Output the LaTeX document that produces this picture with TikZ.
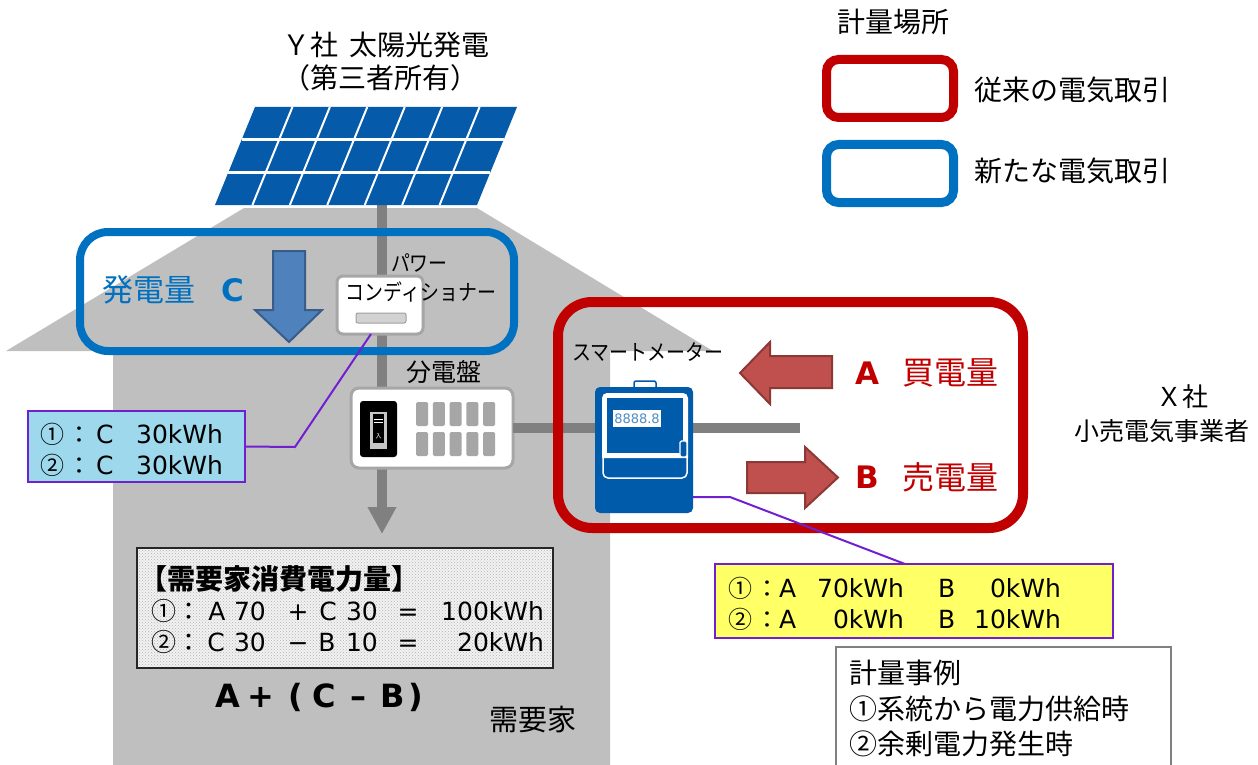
\documentclass[tikz,border=0pt]{standalone}
\usepackage{fontspec}
\usepackage{graphicx}
\setmainfont{Noto Sans CJK JP}
\newfontfamily\latin{DejaVu Sans}
\usetikzlibrary{arrows.meta,calc,patterns}
\newcommand\fsz[1]{\fontsize{#1}{#1}\selectfont}
% narrow kana, as the katakana labels are set
\newcommand\narrowkana[1]{\scalebox{0.86}[1]{#1}}
\definecolor{housegray}{RGB}{191,191,191}
\definecolor{pipegray}{RGB}{128,128,128}
\definecolor{pvblue}{RGB}{5,90,170}
\definecolor{newblue}{RGB}{0,112,192}
\definecolor{oldred}{RGB}{192,0,0}
\definecolor{arrowred}{RGB}{192,80,77}
\definecolor{arrowredline}{RGB}{140,56,54}
\definecolor{arrowblue}{RGB}{79,129,189}
\definecolor{arrowblueline}{RGB}{56,93,138}
\definecolor{callout}{RGB}{112,32,208}
\definecolor{cyanfill}{RGB}{157,216,236}
\definecolor{yellowfill}{RGB}{255,255,102}
\definecolor{meterblue}{RGB}{0,91,171}
\definecolor{boxgray}{RGB}{166,166,166}
\definecolor{cellgray}{RGB}{166,166,166}
\begin{document}
\begin{tikzpicture}[x=1pt,y=-1pt,
  every node/.style={inner sep=0pt, outer sep=0pt},
  pipe/.style={draw=pipegray, line width=10pt},
  callline/.style={draw=callout, line width=2pt},
  jp/.style={font=\fsz{#1}},
  lt/.style={font=\latin\fsz{#1}},
  ltb/.style={font=\latin\bfseries\fsz{#1}},
  areabox/.style={draw=#1, rounded corners=28pt},
  legendbox/.style={draw=#1, line width=9pt, rounded corners=12pt,
    minimum width=127pt, minimum height=58pt},
  notebox/.style={draw=callout, line width=2.2pt, fill=#1},
  blockarrow/.style={draw=#1line, fill=#1, line width=2pt, line join=miter},
]
\useasboundingbox (0,0) rectangle (1258,765);

% ---- house ----
\fill[housegray] (6,351) -- (244,208) -- (477,208) -- (713,351) -- (610,351)
  -- (610,765) -- (113,765) -- (113,351) -- cycle;

% ---- wiring ----
\coordinate (pvfoot) at (382,205);
\coordinate (pipeend) at (382,534);
\draw[pipe,-{Triangle[width=27pt,length=27pt]}] (pvfoot) -- (pipeend);

% distribution board, drawn early so the feeder runs from its edge
\node[draw=boxgray, fill=white, line width=3pt, rounded corners=8pt,
      minimum width=162pt, minimum height=80pt] (db) at (432,428) {};
\node[minimum width=98pt, minimum height=126pt] (meterfoot) at (644,450) {};
\coordinate (gridend) at (800,428);
\draw[pipe] (db.east) -- (db.east -| meterfoot.west);
\draw[pipe] (meterfoot.east |- db.east) -- (gridend);

% ---- metering areas ----
\node[areabox=newblue, line width=8pt, minimum width=434pt, minimum height=119pt]
  (newarea) at (297,291.5) {};
\node[areabox=oldred, line width=10pt, rounded corners=34pt,
      minimum width=465pt, minimum height=226pt] (oldarea) at (790.5,415) {};

% ---- PV array ----
\fill[pvblue] (215,205) -- (255,107) -- (517,107) -- (477,205) -- cycle;
\foreach \i in {1,...,6}
  \draw[white, line width=2pt] ($(215,205)!\i/7!(477,205)$) -- ($(255,107)!\i/7!(517,107)$);
\foreach \j in {1,2}
  \draw[white, line width=2.5pt] ($(215,205)!\j/3!(255,107)$) -- ($(477,205)!\j/3!(517,107)$);

% ---- power conditioner ----
\node[draw=boxgray, fill=white, line width=3pt, rounded corners=6pt,
      minimum width=86pt, minimum height=58pt] (pcs) at (380,305) {};
\node[draw=gray!75, fill=gray!35, line width=1pt, rounded corners=2pt,
      minimum width=50pt, minimum height=10pt] (pcsbar) at (381,318) {};
\node[jp=22, anchor=west] (pcs1) at (391,263) {\narrowkana{パワー}};
\node[jp=22] (pcs2) at (421,292) {\narrowkana{コンディショナー}};

% ---- distribution board contents ----
\node[fill=black, rounded corners=3pt, minimum width=37pt, minimum height=56pt] (brk) at (378.5,429) {};
\node[fill=gray!45, minimum width=17pt, minimum height=37pt] (brkin) at (378.5,430.5) {};
\node[fill=black, minimum width=11pt, minimum height=29pt] (brksw) at (378.5,428.5) {};
\draw[white, line width=1pt] (brksw.north west) ++(1,5) -- ++(9,0) ++(-9,3) -- ++(9,0);
\node[text=white, jp=6] (brklbl) at (378.5,436) {入};
\foreach \i in {0,...,4}
  \foreach \j in {0,1}
    \node[fill=cellgray, rounded corners=1.5pt, minimum width=12pt, minimum height=24pt]
      (cell-\i-\j) at (422+16.75*\i, 414+30*\j) {};
\node[jp=25] (dblbl) at (444,372) {分電盤};

% ---- smart meter ----
\node[draw=meterblue, fill=white, line width=1.5pt, rounded corners=2pt,
      minimum width=22pt, minimum height=8pt] (handle) at (645,385) {};
\node[fill=meterblue, rounded corners=5pt, minimum width=98pt, minimum height=126pt] (meter) at (644,450) {};
\draw[white, line width=1.5pt, rounded corners=5pt] (603,394) rectangle (687,478);
\fill[white] (602,458) [rounded corners=5pt] -- (602,393) -- (688,393) [sharp corners] -- (688,458) -- cycle;
\fill[meterblue] (607,398) rectangle (683,453);
\node[fill=white, minimum width=48pt, minimum height=17pt, lt=13, text=meterblue!70] (digits) at (637,418.5) {8888.8};
\node[draw=white, fill=meterblue, line width=1.2pt, rounded corners=1.5pt,
      minimum width=7pt, minimum height=16pt] (tab) at (683.5,449) {};
\node[jp=22] (meterlbl) at (648,352) {\narrowkana{スマートメーター}};

% ---- flow arrows ----
\draw[blockarrow=arrowblue] (273,251) -- (305,251) -- (305,310) -- (322,310) -- (289,342)
  -- (255,310) -- (273,310) -- cycle;
\draw[blockarrow=arrowred] (832,356) -- (770,356) -- (770,342) -- (740,373) -- (770,404)
  -- (770,388) -- (832,388) -- cycle;
\draw[blockarrow=arrowred] (747,462) -- (805,462) -- (805,447) -- (838,477.5) -- (805,508)
  -- (805,493) -- (747,493) -- cycle;

\node[jp=31, text=newblue] (genlbl) at (149,290) {発電量};
\node[ltb=31, text=newblue] (genC) at (233,290) {C};
\node[ltb=31, text=oldred] (buyA) at (867,373) {A};
\node[jp=32, text=oldred] (buylbl) at (950,373) {買電量};
\node[ltb=31, text=oldred] (sellB) at (867,477) {B};
\node[jp=32, text=oldred] (selllbl) at (950,477) {売電量};

% ---- readings at the power conditioner ----
\node[notebox=cyanfill, minimum width=217pt, minimum height=71pt] (cyanbox) at (136.5,446.5) {};
\coordinate (k1) at (295,447);
\draw[callline] (cyanbox.east) -- (k1) -- ($(pcs.south)+(-9,0)$);
\foreach \n/\yy in {①/443,②/474} {
  \node[jp=24, anchor=base west] at (40,\yy) {\n};
  \node[jp=24, anchor=base] at (79,\yy) {：};
  \node[lt=25, anchor=base west] at (96,\yy) {C};
  \node[lt=25, anchor=base east] at (223,\yy) {30kWh};
}

% ---- readings at the smart meter ----
\node[notebox=yellowfill, minimum width=398pt, minimum height=74pt] (yel) at (914,601) {};
\coordinate (k2) at (730,497);
\draw[callline] (meter.east |- k2) -- (k2) -- ($(yel.north)+(-9,0)$);
\node[jp=24, anchor=base west] (y1n) at (728,597) {①};
\node[jp=24, anchor=base] (y1c) at (767,597) {：};
\node[lt=25, anchor=base west] (y1a) at (779,597) {A};
\node[lt=25, anchor=base east] (y1av) at (904,597) {70kWh};
\node[lt=25, anchor=base west] (y1b) at (938,597) {B};
\node[lt=25, anchor=base east] (y1bv) at (1061,597) {0kWh};
\node[jp=24, anchor=base west] (y2n) at (728,628) {②};
\node[jp=24, anchor=base] (y2c) at (767,628) {：};
\node[lt=25, anchor=base west] (y2a) at (779,628) {A};
\node[lt=25, anchor=base east] (y2av) at (904,628) {0kWh};
\node[lt=25, anchor=base west] (y2b) at (938,628) {B};
\node[lt=25, anchor=base east] (y2bv) at (1061,628) {10kWh};

% ---- household consumption ----
\node[draw=black!85, line width=1.5pt, preaction={fill=gray!10},
      pattern=crosshatch dots, pattern color=gray!60,
      minimum width=416pt, minimum height=120pt] (dem) at (345,608) {};
\node[font=\fsz{28}\bfseries, anchor=west] (demhead) at (139,579) {【需要家消費電力量】};
\node[jp=25, anchor=base west] (d1n) at (151,620) {①};
\node[jp=25, anchor=base] (d1c) at (189,620) {：};
\node[lt=25, anchor=base] (d1a) at (217,620) {A};
\node[lt=25, anchor=base] (d1av) at (250,620) {70};
\node[lt=25, anchor=base] (d1op) at (298,620) {+};
\node[lt=25, anchor=base] (d1b) at (328,620) {C};
\node[lt=25, anchor=base] (d1bv) at (362,620) {30};
\node[lt=25, anchor=base] (d1eq) at (408,620) {=};
\node[lt=25, anchor=base east] (d1r) at (544,620) {100kWh};
\node[jp=25, anchor=base west] (d2n) at (151,651) {②};
\node[jp=25, anchor=base] (d2c) at (189,651) {：};
\node[lt=25, anchor=base] (d2a) at (216,651) {C};
\node[lt=25, anchor=base] (d2av) at (250,651) {30};
\node[lt=25, anchor=base] (d2op) at (298,651) {−};
\node[lt=25, anchor=base] (d2b) at (327,651) {B};
\node[lt=25, anchor=base] (d2bv) at (362,651) {10};
\node[lt=25, anchor=base] (d2eq) at (408,651) {=};
\node[lt=25, anchor=base east] (d2r) at (544,651) {20kWh};

\node[ltb=32, anchor=base] (fA) at (227.5,707) {A};
\node[ltb=32, anchor=base] (fplus) at (261,707) {+};
\node[ltb=32, anchor=base] (fl) at (296,707) {(};
\node[ltb=32, anchor=base] (fC) at (324.5,707) {C};
\node[ltb=32, anchor=base] (fminus) at (358,707) {–};
\node[ltb=32, anchor=base] (fB) at (392.5,707) {B};
\node[ltb=32, anchor=base] (fr) at (416,707) {)};
\node[jp=29] (house) at (533,720) {需要家};

% ---- titles and legend ----
\node[jp=28] (pvtitle) at (386,45) {Ｙ社\hspace{0.4em}太陽光発電};
\node[jp=28] (pvowner) at (380,78) {（第三者所有）};
\node[jp=26] (xco) at (1182,397) {Ｘ社};
\node[jp=25] (xco2) at (1162,431) {小売電気事業者};

\node[jp=28] (legtitle) at (893,22) {計量場所};
\node[legendbox=oldred] (legold) at (890,88.5) {};
\node[legendbox=newblue] (legnew) at (890,173.5) {};
\node[jp=28, anchor=west] (legoldt) at (974,90) {従来の電気取引};
\node[jp=28, anchor=west] (legnewt) at (974,171) {新たな電気取引};

% ---- case notes ----
\draw[draw=gray, line width=2pt] (836,767) |- (1171,647) -- (1171,767);
\node[jp=28, anchor=west] (case0) at (849,673) {計量事例};
\node[jp=28, anchor=west] (case1) at (849,709) {①系統から電力供給時};
\node[jp=28, anchor=west] (case2) at (849,744) {②余剰電力発生時};
\end{tikzpicture}
\end{document}
